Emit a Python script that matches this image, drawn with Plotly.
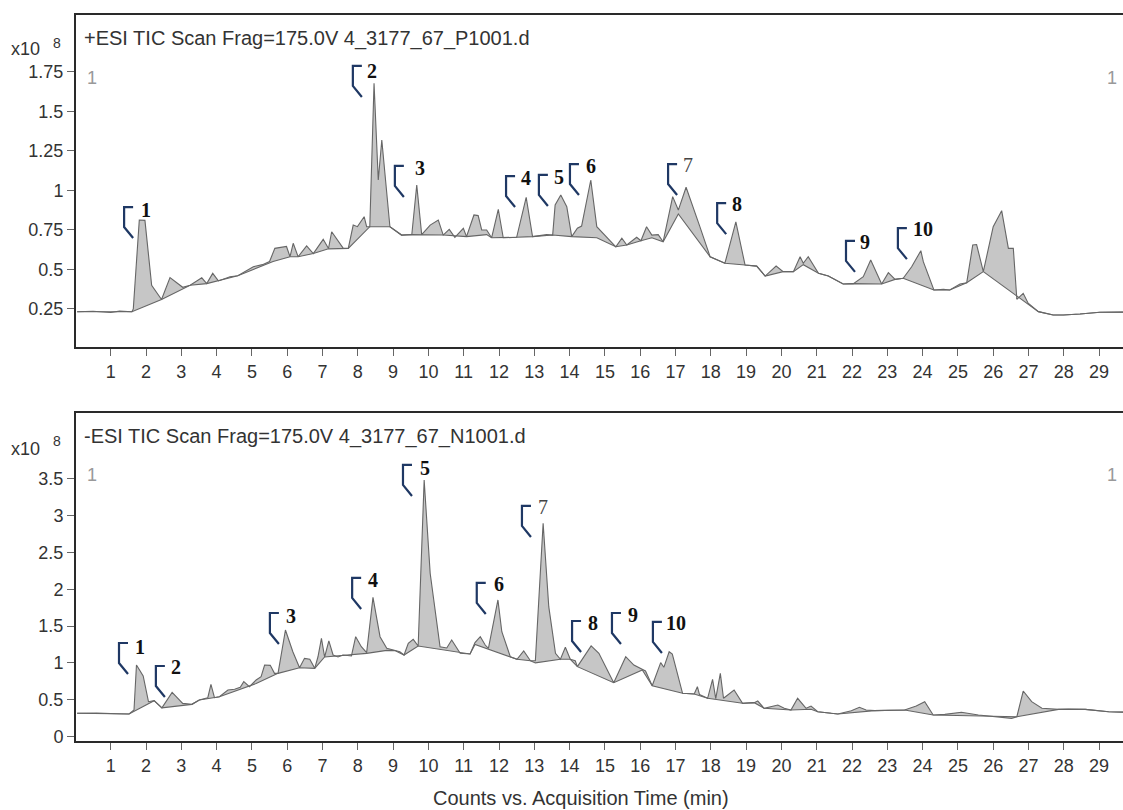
import plotly.graph_objects as go

# ---------------- data: +ESI TIC (top panel), values in x10^8 counts ----------------
pos_time = [0.05, 0.5, 1.0, 1.25, 1.6, 1.64, 1.81, 1.97, 2.16, 2.44, 2.68, 3.04, 3.25, 3.58, 3.72,
            3.89, 4.05, 4.38, 4.6, 5.04, 5.3, 5.5, 5.65, 5.86, 5.98, 6.08, 6.17, 6.31, 6.55, 6.74,
            7.02, 7.17, 7.26, 7.59, 7.73, 7.87, 7.99, 8.18, 8.25, 8.34, 8.46, 8.58, 8.68, 8.91,
            9.24, 9.53, 9.67, 9.81, 10.05, 10.28, 10.42, 10.59, 10.75, 10.99, 11.08, 11.29, 11.41,
            11.51, 11.65, 11.79, 11.98, 12.12, 12.50, 12.77, 12.95, 13.35, 13.52, 13.59, 13.75,
            13.92, 14.06, 14.22, 14.34, 14.60, 14.77, 15.31, 15.48, 15.62, 15.90, 16.02, 16.18,
            16.33, 16.51, 16.65, 16.92, 17.08, 17.30, 17.69, 17.98, 18.40, 18.71, 18.97, 19.30,
            19.54, 19.85, 20.05, 20.34, 20.53, 20.62, 20.76, 21.05, 21.33, 21.75, 22.04, 22.32,
            22.53, 22.84, 23.03, 23.22, 23.45, 23.69, 23.95, 24.02, 24.32, 24.59, 24.77, 25.06,
            25.25, 25.42, 25.53, 25.72, 26.00, 26.24, 26.43, 26.57, 26.67, 26.85, 26.99, 27.28,
            27.70, 27.99, 28.46, 29.02, 29.68]
pos_signal = [0.232, 0.235, 0.228, 0.236, 0.232, 0.25, 0.812, 0.81, 0.40, 0.31, 0.448, 0.387, 0.40,
              0.447, 0.41, 0.475, 0.427, 0.454, 0.46, 0.517, 0.53, 0.55, 0.633, 0.643, 0.645, 0.58,
              0.665, 0.58, 0.648, 0.60, 0.69, 0.632, 0.738, 0.633, 0.633, 0.78, 0.77, 0.833, 0.77,
              0.77, 1.676, 1.065, 1.318, 0.77, 0.717, 0.72, 1.033, 0.72, 0.78, 0.812, 0.717, 0.753,
              0.703, 0.76, 0.707, 0.844, 0.84, 0.749, 0.749, 0.70, 0.88, 0.70, 0.703, 0.956, 0.707,
              0.72, 0.717, 0.907, 0.97, 0.896, 0.707, 0.76, 0.774, 1.065, 0.77, 0.643, 0.697, 0.654,
              0.703, 0.681, 0.77, 0.717, 0.72, 0.675, 0.96, 0.875, 1.019, 0.77, 0.58, 0.539, 0.80,
              0.528, 0.521, 0.458, 0.521, 0.486, 0.486, 0.58, 0.539, 0.58, 0.475, 0.458, 0.408, 0.41,
              0.454, 0.559, 0.408, 0.479, 0.437, 0.444, 0.517, 0.618, 0.549, 0.37, 0.374, 0.37,
              0.408, 0.416, 0.654, 0.657, 0.486, 0.77, 0.871, 0.633, 0.633, 0.311, 0.349, 0.286,
              0.233, 0.212, 0.212, 0.218, 0.229, 0.23]
pos_base_time = [0.05, 1.6, 2.44, 3.04, 3.25, 3.72, 4.05, 4.6, 5.04, 5.6, 6.08, 6.31, 6.74, 7.17,
                 7.73, 8.34, 8.91, 9.24, 9.53, 9.81, 10.42, 11.08, 11.65, 11.79, 12.12, 12.50,
                 12.95, 13.52, 14.06, 14.77, 15.31, 15.62, 16.02, 16.33, 16.65, 17.08, 17.98, 18.40,
                 18.97, 19.30, 19.54, 20.05, 20.34, 20.62, 21.05, 21.33, 21.75, 22.04, 22.84, 23.22,
                 23.45, 24.32, 24.77, 25.25, 25.72, 26.85, 27.28, 27.70, 27.99, 28.46, 29.02, 29.68]
pos_base = [0.232, 0.232, 0.31, 0.375, 0.40, 0.41, 0.427, 0.46, 0.50, 0.55, 0.58, 0.58, 0.60, 0.63,
            0.633, 0.77, 0.77, 0.717, 0.72, 0.72, 0.717, 0.707, 0.72, 0.70, 0.70, 0.703, 0.707,
            0.717, 0.707, 0.70, 0.643, 0.654, 0.681, 0.70, 0.675, 0.85, 0.58, 0.539, 0.528, 0.521,
            0.458, 0.486, 0.486, 0.53, 0.475, 0.458, 0.408, 0.41, 0.408, 0.437, 0.444, 0.37, 0.37,
            0.416, 0.486, 0.30, 0.233, 0.212, 0.212, 0.218, 0.229, 0.23]

# ---------------- data: -ESI TIC (bottom panel), values in x10^8 counts ----------------
neg_time = [0.05, 0.6, 1.2, 1.52, 1.66, 1.73, 1.92, 2.07, 2.23, 2.45, 2.74, 3.04, 3.30, 3.51, 3.75,
            3.84, 3.94, 4.08, 4.32, 4.51, 4.67, 4.77, 4.93, 5.12, 5.26, 5.36, 5.52, 5.64, 5.74,
            5.95, 6.16, 6.35, 6.49, 6.64, 6.78, 6.87, 6.97, 7.06, 7.18, 7.30, 7.44, 7.58, 7.82,
            7.94, 8.10, 8.20, 8.25, 8.43, 8.63, 8.82, 9.05, 9.19, 9.31, 9.43, 9.57, 9.71, 9.88,
            10.05, 10.33, 10.52, 10.66, 10.90, 11.18, 11.32, 11.47, 11.61, 11.70, 11.97, 12.08,
            12.32, 12.51, 12.70, 12.89, 13.03, 13.25, 13.41, 13.60, 13.74, 13.88, 14.02, 14.16,
            14.22, 14.61, 14.83, 15.25, 15.59, 15.82, 16.06, 16.15, 16.34, 16.58, 16.67, 16.82,
            16.91, 17.20, 17.53, 17.62, 17.68, 17.91, 18.05, 18.14, 18.27, 18.36, 18.66, 18.90,
            19.23, 19.33, 19.51, 19.90, 20.08, 20.27, 20.46, 20.70, 20.84, 21.03, 21.41, 21.60,
            21.98, 22.21, 22.40, 22.64, 23.49, 23.82, 24.06, 24.30, 24.63, 25.10, 25.58, 26.05,
            26.52, 26.67, 26.85, 27.09, 27.38, 27.85, 28.13, 28.61, 29.27, 29.73]
neg_signal = [0.315, 0.318, 0.31, 0.306, 0.36, 0.971, 0.822, 0.473, 0.487, 0.39, 0.60, 0.45, 0.437,
              0.496, 0.527, 0.709, 0.527, 0.54, 0.632, 0.641, 0.668, 0.745, 0.677, 0.768, 0.813,
              0.971, 0.967, 0.858, 0.858, 1.447, 1.152, 0.935, 1.062, 1.05, 0.926, 1.08, 1.334,
              1.08, 1.30, 1.107, 1.08, 1.107, 1.094, 1.356, 1.22, 1.175, 1.14, 1.891, 1.356, 1.198,
              1.167, 1.152, 1.107, 1.266, 1.32, 1.23, 3.485, 2.217, 1.22, 1.203, 1.311, 1.13, 1.121,
              1.275, 1.356, 1.243, 1.198, 1.855, 1.424, 1.084, 1.049, 1.162, 1.03, 1.03, 2.897,
              1.764, 1.13, 1.049, 1.212, 1.049, 1.03, 0.949, 1.23, 1.13, 0.731, 1.084, 0.971, 0.904,
              0.89, 0.69, 1.003, 0.94, 1.152, 1.12, 0.587, 0.577, 0.677, 0.57, 0.519, 0.777, 0.515,
              0.858, 0.52, 0.632, 0.451, 0.46, 0.482, 0.383, 0.428, 0.383, 0.36, 0.519, 0.383, 0.414,
              0.337, 0.315, 0.306, 0.351, 0.397, 0.36, 0.351, 0.36, 0.414, 0.473, 0.292, 0.301,
              0.329, 0.292, 0.269, 0.247, 0.269, 0.618, 0.473, 0.383, 0.369, 0.373, 0.369, 0.337,
              0.33]
neg_base_time = [0.05, 1.52, 2.23, 2.45, 3.30, 3.51, 4.08, 4.67, 5.12, 5.74, 6.35, 6.78, 7.06, 8.25,
                 8.82, 9.05, 9.31, 9.71, 10.52, 11.18, 11.32, 12.32, 12.51, 12.89, 13.03, 13.74,
                 14.02, 14.22, 15.25, 16.06, 16.34, 17.20, 17.53, 17.91, 18.90, 19.23, 19.51,
                 20.27, 20.84, 21.03, 21.60, 22.64, 23.49, 24.30, 26.67, 27.85, 28.61, 29.27, 29.73]
neg_base = [0.315, 0.306, 0.487, 0.39, 0.437, 0.496, 0.54, 0.64, 0.72, 0.858, 0.935, 0.926, 1.08,
            1.13, 1.17, 1.167, 1.107, 1.23, 1.17, 1.121, 1.25, 1.084, 1.049, 1.03, 1.0, 1.049, 1.049,
            0.949, 0.731, 0.904, 0.69, 0.587, 0.577, 0.519, 0.451, 0.46, 0.383, 0.36, 0.37, 0.337,
            0.306, 0.351, 0.36, 0.292, 0.269, 0.369, 0.369, 0.337, 0.33]

# ---------------- tick labels ----------------
x_ticks = list(range(1, 30))
pos_y_ticks = [0.25, 0.5, 0.75, 1, 1.25, 1.5, 1.75]
pos_y_text = ["0.25", "0.5", "0.75", "1", "1.25", "1.5", "1.75"]
neg_y_ticks = [0, 0.5, 1, 1.5, 2, 2.5, 3, 3.5]
neg_y_text = ["0", "0.5", "1", "1.5", "2", "2.5", "3", "3.5"]

# ---------------- peak labels ----------------
peak_names = ["1", "2", "3", "4", "5", "6", "7", "8", "9", "10"]
pos_num_x = [2.0, 8.40, 9.76, 12.77, 13.70, 14.61, 17.35, 18.74, 22.37, 24.01]
pos_num_y = [0.875, 1.754, 1.141, 1.078, 1.084, 1.153, 1.160, 0.913, 0.673, 0.755]
pos_br_x = [1.38, 7.86, 9.05, 12.20, 13.13, 14.01, 16.79, 18.18, 21.83, 23.30]
pos_br_y = [0.894, 1.786, 1.154, 1.090, 1.097, 1.166, 1.166, 0.919, 0.680, 0.761]
neg_num_x = [1.83, 2.85, 6.11, 8.43, 9.90, 11.99, 13.25, 14.66, 15.80, 17.01]
neg_num_y = [1.216, 0.944, 1.637, 2.126, 3.648, 2.072, 3.118, 1.542, 1.651, 1.542]
neg_br_x = [1.235, 2.28, 5.51, 7.84, 9.28, 11.37, 12.65, 14.07, 15.20, 16.36]
neg_br_y = [1.270, 0.958, 1.678, 2.154, 3.689, 2.086, 3.132, 1.569, 1.678, 1.556]

SANS = "Liberation Sans, Arial, sans-serif"
SERIF = "Liberation Serif, Times New Roman, serif"
LINE = "#666666"
FILL = "#c6c6c6"
BRACKET = "#1f3864"

fig = go.Figure()
panels = [
    ("x", "y", pos_base_time, pos_base, pos_time, pos_signal),
    ("x2", "y2", neg_base_time, neg_base, neg_time, neg_signal),
]
for xa, ya, bt, bv, st, sv in panels:
    fig.add_trace(go.Scatter(x=bt, y=bv, mode="lines", xaxis=xa, yaxis=ya,
                             line=dict(color=LINE, width=1.1), hoverinfo="skip"))
    fig.add_trace(go.Scatter(x=st, y=sv, mode="lines", xaxis=xa, yaxis=ya, fill="tonexty",
                             fillcolor=FILL, line=dict(color=LINE, width=1.1)))

axis_common = dict(showline=True, linecolor="#2a2a2a", linewidth=2, ticks="outside",
                   ticklen=7, tickwidth=1, tickcolor="#666", showgrid=False, zeroline=False,
                   automargin=False,
                   tickfont=dict(family=SANS, size=18, color="#333"))
x_range = [0.017, 29.677]
fig.update_layout(
    width=1123, height=810,
    margin=dict(l=76, r=0, t=15, b=69, autoexpand=False),
    paper_bgcolor="white", plot_bgcolor="white", showlegend=False,
    xaxis=dict(domain=[0, 1], anchor="y", range=x_range, tickvals=x_ticks, mirror=True,
               **axis_common),
    yaxis=dict(domain=[0.5427, 1], anchor="x", range=[0.0095, 2.108], tickvals=pos_y_ticks,
               ticktext=pos_y_text, **axis_common),
    xaxis2=dict(domain=[0, 1], anchor="y2", range=x_range, tickvals=x_ticks, mirror=True,
                **axis_common),
    yaxis2=dict(domain=[0, 0.4518], anchor="x2", range=[-0.061, 4.395], tickvals=neg_y_ticks,
                ticktext=neg_y_text, **axis_common),
)

annotations = []
shapes = []
bracket_path = "M 9,0 L 0,0 L 0,-20 L 9,-31"
for xa, ya, nx, ny, bx, by in [("x", "y", pos_num_x, pos_num_y, pos_br_x, pos_br_y),
                               ("x2", "y2", neg_num_x, neg_num_y, neg_br_x, neg_br_y)]:
    for name, x, y, b1, b2 in zip(peak_names, nx, ny, bx, by):
        bold = name != "7"
        annotations.append(dict(x=x, y=y, xref=xa, yref=ya, text=f"<b>{name}</b>" if bold else name,
                                showarrow=False, xanchor="center", yanchor="middle",
                                font=dict(family=SERIF, size=20, color="#111" if bold else "#444")))
        shapes.append(dict(type="path", xref=xa, yref=ya, xsizemode="pixel", ysizemode="pixel",
                           xanchor=b1, yanchor=b2, path=bracket_path,
                           line=dict(color=BRACKET, width=2.2)))

# panel headers and multiplier labels
for ya, title, ymul, ysup in [("y", "+ESI TIC Scan Frag=175.0V 4_3177_67_P1001.d", 0.953, 0.962),
                              ("y2", "-ESI TIC Scan Frag=175.0V 4_3177_67_N1001.d", 0.4018, 0.4134)]:
    annotations.append(dict(x=0.006, y=0.928, xref="paper", yref=f"{ya} domain", text=title,
                            showarrow=False, xanchor="left", yanchor="middle",
                            font=dict(family=SANS, size=20, color="#333")))
    annotations.append(dict(x=0.009, y=0.81, xref="paper", yref=f"{ya} domain", text="1",
                            showarrow=False, xanchor="left", yanchor="middle",
                            font=dict(family=SANS, size=18, color="#999")))
    annotations.append(dict(x=0.996, y=0.81, xref="paper", yref=f"{ya} domain", text="1",
                            showarrow=False, xanchor="right", yanchor="middle",
                            font=dict(family=SANS, size=18, color="#999")))
    annotations.append(dict(x=-0.0640, y=ymul, xref="paper", yref="paper", text="x10",
                            showarrow=False, xanchor="left", yanchor="middle",
                            font=dict(family=SANS, size=18, color="#333")))
    annotations.append(dict(x=-0.0185, y=ysup, xref="paper", yref="paper", text="8",
                            showarrow=False, xanchor="center", yanchor="middle",
                            font=dict(family=SANS, size=14, color="#333")))

annotations.append(dict(x=(581 - 76) / 1047, y=-0.078, xref="paper", yref="paper",
                        text="Counts vs. Acquisition Time (min)", showarrow=False,
                        xanchor="center", yanchor="middle",
                        font=dict(family=SANS, size=20, color="#333")))

fig.update_layout(annotations=annotations, shapes=shapes)
fig.write_html("out.html", config={"displayModeBar": False},
               post_script="document.body.style.margin='0px';document.body.style.overflow='hidden';")
